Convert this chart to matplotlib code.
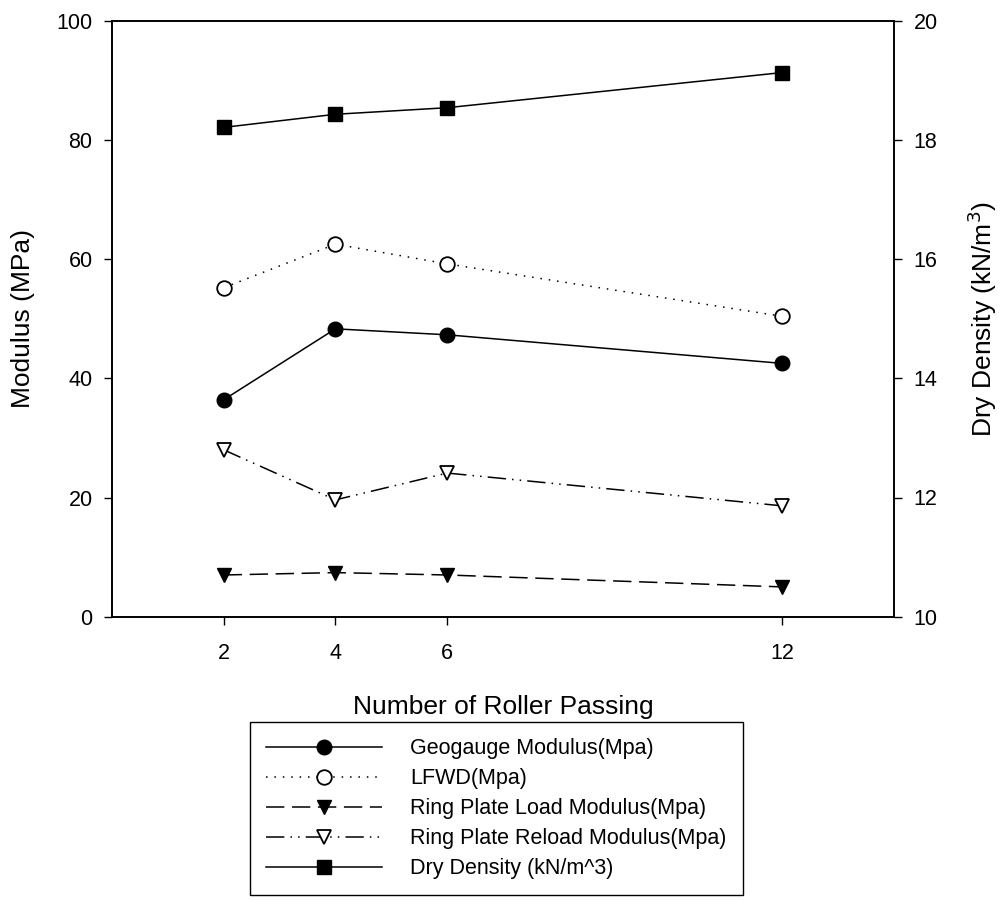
import matplotlib.pyplot as plt

plt.rcParams['font.family'] = ['Liberation Sans', 'DejaVu Sans']

# roller passes and measured values
passes = [2, 4, 6, 12]
geogauge = [36.4, 48.3, 47.3, 42.5]
lfwd = [55.2, 62.5, 59.2, 50.4]
ring_load = [7.0, 7.4, 7.0, 5.0]
ring_reload = [28.0, 19.6, 24.1, 18.6]
dry_density = [18.21, 18.43, 18.54, 19.13]

labels = ['Geogauge Modulus(Mpa)', 'LFWD(Mpa)', 'Ring Plate Load Modulus(Mpa)',
          'Ring Plate Reload Modulus(Mpa)', 'Dry Density (kN/m^3)']

fig = plt.figure(figsize=(10.03, 9.01), dpi=100)
ax = fig.add_axes([112 / 1003, 284.3 / 901, 782 / 1003, 596 / 901])
ax2 = ax.twinx()

ms = 10.5
lw = 1.1
ax.plot(passes, geogauge, color='black', lw=lw, marker='o', ms=ms, label=labels[0])
ax.plot(passes, lfwd, color='black', lw=lw, ls=(0, (1, 4.5)), marker='o', ms=ms,
        mfc='white', mec='black', mew=1.3, label=labels[1])
ax.plot(passes, ring_load, color='black', lw=lw, ls=(0, (12, 5)), marker='v', ms=ms,
        label=labels[2])
ax.plot(passes, ring_reload, color='black', lw=lw, ls=(0, (12, 4, 1, 4, 1, 4)), marker='v',
        ms=ms, mfc='white', mec='black', mew=1.3, label=labels[3])
ax2.plot(passes, dry_density, color='black', lw=lw, marker='s', ms=9.5, label=labels[4])

ax.set_xlim(0, 14)
ax.set_ylim(0, 100)
ax2.set_ylim(10, 20)
ax.set_xticks(passes)
ax.set_yticks(range(0, 101, 20))
ax2.set_yticks(range(10, 21, 2))

for a in (ax, ax2):
    a.tick_params(direction='out', length=6, width=1, labelsize=15.5)
    a.tick_params(axis='y', pad=8)
    for s in a.spines.values():
        s.set_linewidth(1.2)
ax.tick_params(axis='x', pad=13)
ax.tick_params(axis='y', right=False)

ax.set_xlabel('Number of Roller Passing', fontsize=19, labelpad=22)
ax.set_ylabel('Modulus (MPa)', fontsize=19)
ax2.set_ylabel('Dry Density (kN/m$^3$)', fontsize=19)
ax.yaxis.set_label_coords(-0.098, 0.5)
ax2.yaxis.set_label_coords(1.091, 0.5)

handles = ax.get_legend_handles_labels()[0] + ax2.get_legend_handles_labels()[0]
leg = fig.legend(handles=handles, loc='upper center', bbox_to_anchor=(496.5 / 1003, 1 - 722 / 901),
                 fontsize=15.5, handlelength=5.4, handletextpad=1.3, fancybox=False,
                 edgecolor='black', framealpha=1, borderpad=0.75, labelspacing=0.42,
                 borderaxespad=0)
leg.get_frame().set_linewidth(1.0)

fig.savefig('out.png', dpi=100)
